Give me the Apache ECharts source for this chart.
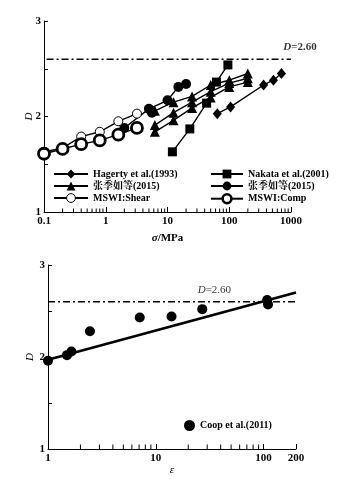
<!DOCTYPE html>
<html><head><meta charset="utf-8">
<script src="https://cdn.jsdelivr.net/npm/echarts@6/dist/echarts.min.js"></script>
<style>html,body{margin:0;padding:0;background:#fff}#c{width:362px;height:479px}</style>
</head><body><div id="c"></div>
<script>
// ---- Top chart data (sigma in MPa, D) ----
const hagertyX = [64, 105, 360, 520, 700];
const hagertyD = [2.03, 2.10, 2.33, 2.38, 2.45];
const nakataX = [12, 23, 43, 62, 95];
const nakataD = [1.63, 1.87, 2.14, 2.36, 2.54];
const zhangTriX = [6.25, 12.5, 25, 50, 100, 200];
const zhangTri1D = [1.84, 1.96, 2.09, 2.20, 2.31, 2.36];
const zhangTri2D = [1.91, 2.04, 2.15, 2.26, 2.35, 2.40];
const zhangTri3D = [2.06, 2.15, 2.21, 2.33, 2.38, 2.45];
const zhangCirX = [2, 5, 10, 15, 20];
const zhangCirD = [1.88, 2.08, 2.17, 2.31, 2.34];
const zhangCir2X = [5.6];
const zhangCir2D = [2.04];
const mswiX = [0.1, 0.2, 0.4, 0.8, 1.6, 3.2];
const shearD = [1.63, 1.67, 1.79, 1.84, 1.95, 2.03];
const compD = [1.61, 1.66, 1.71, 1.75, 1.81, 1.88];
const limitD = 2.60;
const topXTicks = [0.1, 1, 10, 100, 1000];
const topMinorTicks = [0.2,0.3,0.4,0.5,0.6,0.7,0.8,0.9,2,3,4,5,6,7,8,9,20,30,40,50,60,70,80,90,200,300,400,500,600,700,800,900];
// ---- Bottom chart data (epsilon, D) ----
const coopX = [1, 1.5, 1.65, 2.45, 7.1, 14, 27, 108, 110];
const coopD = [1.96, 2.02, 2.06, 2.28, 2.43, 2.44, 2.52, 2.62, 2.57];
const fitX = [1, 200];
const fitD = [1.97, 2.70];
const botMinorTicks = [2,3,4,5,6,7,8,9,20,30,40,50,60,70,80,90];

const FONT = "'Liberation Serif','Noto Serif CJK SC','Noto Sans CJK SC',serif";
const pairs = (xs, ys) => xs.map((x, i) => [x, ys[i]]);
const lbl = {fontFamily: FONT, fontSize: 11, fontWeight: 'bold', color: '#000'};

function lineSeries(name, xs, ys, symbol, size, extra) {
  return Object.assign({
    type: 'line', name, xAxisIndex: 0, yAxisIndex: 0,
    data: pairs(xs, ys), symbol, symbolSize: size, showSymbol: true,
    lineStyle: {color: '#000', width: 1.4},
    itemStyle: {color: '#000', opacity: 1}, silent: true, animation: false
  }, extra || {});
}

const chart = echarts.init(document.getElementById('c'), null, {renderer: 'canvas'});
chart.setOption({
  animation: false,
  backgroundColor: '#fff',
  grid: [
    {left: 44, right: 71, top: 21, height: 191},
    {left: 48, right: 66, top: 265, height: 184}
  ],
  xAxis: [
    {type: 'log', gridIndex: 0, min: 0.1, max: 1000, logBase: 10,
     axisLine: {lineStyle: {color: '#000', width: 1}},
     axisTick: {inside: true, length: 5, lineStyle: {color: '#000'}},
     splitLine: {show: false},
     axisLabel: Object.assign({margin: 4, formatter: v => String(+v.toPrecision(3))}, lbl),
     name: '{i|σ}/MPa', nameLocation: 'middle', nameGap: 21,
     nameTextStyle: Object.assign({}, lbl, {rich: {i: {fontFamily: FONT, fontSize: 11, fontStyle: 'italic', fontWeight: 'bold'}}})},
    {type: 'log', gridIndex: 1, min: 1, max: 200, logBase: 10,
     axisLine: {lineStyle: {color: '#000', width: 1}},
     axisTick: {inside: true, length: 5, lineStyle: {color: '#000'}},
     splitLine: {show: false},
     axisLabel: Object.assign({margin: 4, showMaxLabel: true, formatter: v => String(+v.toPrecision(3))}, lbl),
     name: 'ε', nameLocation: 'middle', nameGap: 14,
     nameTextStyle: Object.assign({}, lbl, {fontStyle: 'italic', fontWeight: 'normal'})}
  ],
  yAxis: [
    {type: 'value', gridIndex: 0, min: 1, max: 3, interval: 0.5,
     axisLine: {show: true, lineStyle: {color: '#000', width: 1}},
     axisTick: {show: true, inside: true, length: 4, lineStyle: {color: '#000'}},
     splitLine: {show: false},
     axisLabel: Object.assign({margin: 3, formatter: v => Number.isInteger(v) ? String(v) : ''}, lbl),
     name: 'D', nameLocation: 'middle', nameGap: 9, nameRotate: 90, nameMoveOverlap: false,
     nameTextStyle: Object.assign({}, lbl, {fontStyle: 'italic', fontWeight: 'normal'})},
    {type: 'value', gridIndex: 1, min: 1, max: 3, interval: 0.5,
     axisLine: {show: true, lineStyle: {color: '#000', width: 1}},
     axisTick: {show: true, inside: true, length: 4, lineStyle: {color: '#000'}},
     splitLine: {show: false},
     axisLabel: Object.assign({margin: 3, formatter: v => Number.isInteger(v) ? String(v) : ''}, lbl),
     name: 'D', nameLocation: 'middle', nameGap: 12, nameRotate: 90, nameMoveOverlap: false,
     nameTextStyle: Object.assign({}, lbl, {fontStyle: 'italic', fontWeight: 'normal'})}
  ],
  legend: [
    {left: 48, top: 164, orient: 'vertical', itemGap: 2, itemWidth: 34, itemHeight: 11,
     data: ['Hagerty et al.(1993)', '张季如等(2015)#t',
            {name: 'MSWI:Shear', itemStyle: {color: '#fff', borderColor: '#000', borderWidth: 1}}],
     formatter: n => n.replace(/#.*/, ''), textStyle: Object.assign({}, lbl, {fontSize: 10}),
     selectedMode: false},
    {left: 205, top: 164, orient: 'vertical', itemGap: 2, itemWidth: 32, itemHeight: 11,
     data: ['Nakata et al.(2001)', '张季如等(2015)#c',
            {name: 'MSWI:Comp', itemStyle: {color: '#fff', borderColor: '#000', borderWidth: 2.6}}],
     formatter: n => n.replace(/#.*/, ''), textStyle: Object.assign({}, lbl, {fontSize: 10}),
     selectedMode: false},
    {left: 179, top: 415, orient: 'vertical', itemWidth: 11, itemHeight: 11,
     data: [{name: 'Coop et al.(2011)', itemStyle: {color: '#000', opacity: 1}}],
     textStyle: Object.assign({}, lbl, {fontSize: 10}),
     selectedMode: false}
  ],
  series: [
    // minor log ticks
    {type: 'scatter', xAxisIndex: 0, yAxisIndex: 0, silent: true,
     data: topMinorTicks.map(v => [v, 1]), symbol: 'rect', symbolSize: [1, 3.5], symbolOffset: [0, '-50%'],
     itemStyle: {color: '#000', opacity: 1}, clip: false},
    {type: 'scatter', xAxisIndex: 1, yAxisIndex: 1, silent: true,
     data: botMinorTicks.map(v => [v, 1]), symbol: 'rect', symbolSize: [1, 4.5], symbolOffset: [0, '-50%'],
     itemStyle: {color: '#000', opacity: 1}, clip: false},
    // limit lines
    {type: 'line', xAxisIndex: 0, yAxisIndex: 0, silent: true, symbol: 'none',
     data: [[0.11, limitD], [1000, limitD]],
     lineStyle: {color: '#000', width: 1.6, type: [7, 3, 2, 3]}},
    {type: 'scatter', xAxisIndex: 0, yAxisIndex: 0, silent: true, symbolSize: 1,
     itemStyle: {color: 'rgba(0,0,0,0)'}, data: [[1000, limitD]],
     label: {show: true, position: 'top', offset: [9, -1], formatter: '{i|D}=2.60',
       fontFamily: FONT, fontSize: 11, fontWeight: 'bold', color: '#000',
       rich: {i: {fontFamily: FONT, fontSize: 11, fontStyle: 'italic', color: '#000'}}}},
    {type: 'line', xAxisIndex: 1, yAxisIndex: 1, silent: true, symbol: 'none',
     data: [[1, limitD], [200, limitD]],
     lineStyle: {color: '#000', width: 1.6, type: [7, 3, 2, 3]}},
    {type: 'scatter', xAxisIndex: 1, yAxisIndex: 1, silent: true, symbolSize: 1,
     itemStyle: {color: 'rgba(0,0,0,0)'}, data: [[35, limitD]],
     label: {show: true, position: 'top', offset: [0, -1], formatter: '{i|D}=2.60',
       fontFamily: FONT, fontSize: 11, color: '#000',
       rich: {i: {fontFamily: FONT, fontSize: 11, fontStyle: 'italic', color: '#000'}}}},
    // top data
    lineSeries('Hagerty et al.(1993)', hagertyX, hagertyD, 'diamond', [9, 11]),
    lineSeries('Nakata et al.(2001)', nakataX, nakataD, 'rect', 9),
    lineSeries('张季如等(2015)#t', zhangTriX, zhangTri1D, 'triangle', 10),
    lineSeries('张季如等(2015)#t', zhangTriX, zhangTri2D, 'triangle', 10),
    lineSeries('张季如等(2015)#t', zhangTriX, zhangTri3D, 'triangle', 10),
    lineSeries('张季如等(2015)#c', zhangCirX, zhangCirD, 'circle', 10),
    lineSeries('张季如等(2015)#c', zhangCir2X, zhangCir2D, 'circle', 10),
    lineSeries('MSWI:Shear', mswiX, shearD, 'circle', 9,
      {itemStyle: {color: '#fff', borderColor: '#000', borderWidth: 1}}),
    lineSeries('MSWI:Comp', mswiX, compD, 'circle', 11,
      {itemStyle: {color: '#fff', borderColor: '#000', borderWidth: 2.8}}),
    // bottom data
    {type: 'line', xAxisIndex: 1, yAxisIndex: 1, silent: true, symbol: 'none',
     data: pairs(fitX, fitD), lineStyle: {color: '#000', width: 2.6}},
    {type: 'scatter', name: 'Coop et al.(2011)', xAxisIndex: 1, yAxisIndex: 1, silent: true,
     data: pairs(coopX, coopD), symbol: 'circle', symbolSize: 10,
     itemStyle: {color: '#000', opacity: 1}, z: 5}
  ]
});
</script></body></html>
